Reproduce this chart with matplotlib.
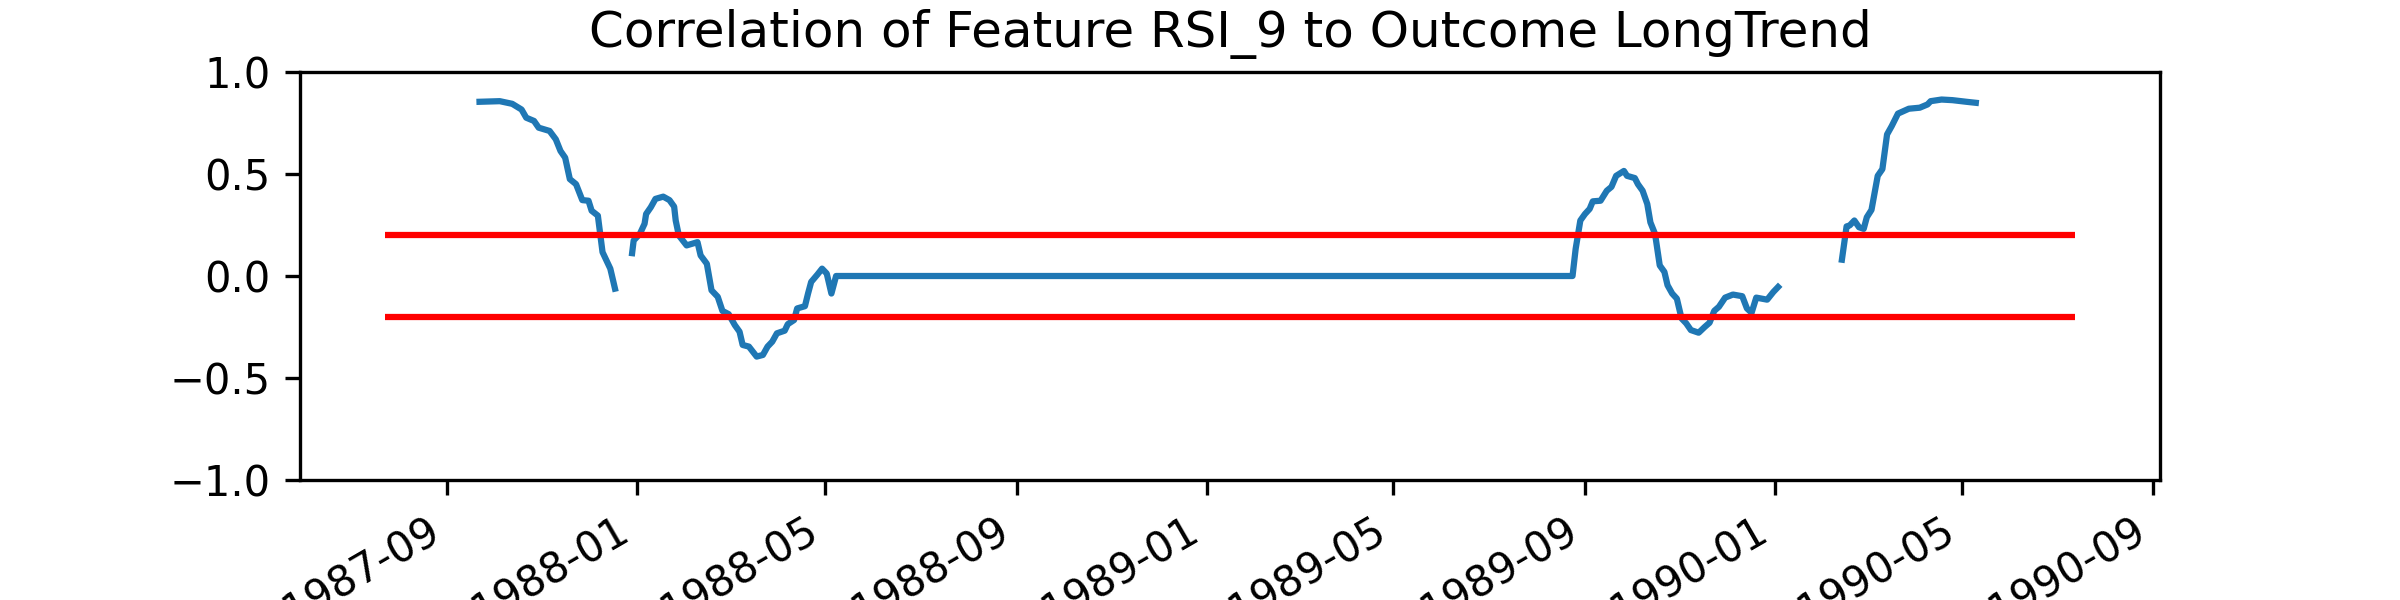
import matplotlib
matplotlib.use("Agg")
import matplotlib.pyplot as plt
import matplotlib.dates as mdates
import numpy as np
import pandas as pd

# sampled correlation values (NaN = no value)
dates = [
    "1987-07-23",
    "1987-09-22", "1987-10-05", "1987-10-13", "1987-10-19", "1987-10-22",
    "1987-10-27", "1987-10-30", "1987-11-06", "1987-11-10", "1987-11-13",
    "1987-11-16", "1987-11-19", "1987-11-23", "1987-11-27", "1987-12-01",
    "1987-12-03", "1987-12-07", "1987-12-10", "1987-12-15", "1987-12-17",
    "1987-12-18",
    "1987-12-23",
    "1987-12-29", "1987-12-30", "1988-01-03", "1988-01-06", "1988-01-07",
    "1988-01-10", "1988-01-13", "1988-01-18", "1988-01-22", "1988-01-25",
    "1988-01-26", "1988-01-28", "1988-02-02", "1988-02-09", "1988-02-11",
    "1988-02-15", "1988-02-18", "1988-02-22", "1988-02-25", "1988-02-29",
    "1988-03-04", "1988-03-07", "1988-03-09", "1988-03-13", "1988-03-18",
    "1988-03-22", "1988-03-25", "1988-03-28", "1988-03-31", "1988-04-05",
    "1988-04-07", "1988-04-11", "1988-04-13", "1988-04-18", "1988-04-20",
    "1988-04-22", "1988-04-26", "1988-04-29", "1988-05-02", "1988-05-05",
    "1988-05-08", "1989-08-24",
    "1989-08-26", "1989-08-29", "1989-09-01", "1989-09-04", "1989-09-06",
    "1989-09-11", "1989-09-15", "1989-09-18", "1989-09-21", "1989-09-26",
    "1989-09-28", "1989-10-03", "1989-10-05", "1989-10-08", "1989-10-11",
    "1989-10-13", "1989-10-16", "1989-10-19", "1989-10-22", "1989-10-24",
    "1989-10-27", "1989-10-30", "1989-11-02", "1989-11-05", "1989-11-08",
    "1989-11-13", "1989-11-17", "1989-11-20", "1989-11-23", "1989-11-26",
    "1989-11-30", "1989-12-05", "1989-12-11", "1989-12-14", "1989-12-17",
    "1989-12-20", "1989-12-27", "1989-12-31", "1990-01-03",
    "1990-01-20",
    "1990-02-13", "1990-02-16", "1990-02-18", "1990-02-21", "1990-02-24",
    "1990-02-27", "1990-03-01", "1990-03-04", "1990-03-08", "1990-03-11",
    "1990-03-14", "1990-03-17", "1990-03-21", "1990-03-28", "1990-04-04",
    "1990-04-09", "1990-04-11", "1990-04-18", "1990-04-25", "1990-05-04",
    "1990-05-10",
    "1990-07-13",
]
corr = [
    np.nan,
    0.854, 0.857, 0.844, 0.816, 0.776,
    0.760, 0.727, 0.711, 0.670, 0.613,
    0.580, 0.475, 0.450, 0.372, 0.369,
    0.320, 0.296, 0.117, 0.036, -0.029,
    -0.062,
    np.nan,
    0.112, 0.174, 0.207, 0.256, 0.304,
    0.337, 0.378, 0.389, 0.372, 0.340,
    0.272, 0.199, 0.150, 0.166, 0.101,
    0.060, -0.070, -0.102, -0.171, -0.187,
    -0.241, -0.273, -0.338, -0.346, -0.395,
    -0.387, -0.346, -0.322, -0.281, -0.268,
    -0.236, -0.216, -0.159, -0.148, -0.086,
    -0.029, 0.007, 0.036, 0.012, -0.086,
    0.0, 0.0,
    0.133, 0.272, 0.304, 0.329, 0.366,
    0.369, 0.418, 0.437, 0.491, 0.515,
    0.491, 0.480, 0.450, 0.418, 0.353,
    0.263, 0.206, 0.052, 0.020, -0.045,
    -0.086, -0.111, -0.208, -0.232, -0.265,
    -0.278, -0.249, -0.229, -0.171, -0.151,
    -0.106, -0.091, -0.099, -0.159, -0.180,
    -0.106, -0.116, -0.078, -0.054,
    np.nan,
    0.080, 0.243, 0.248, 0.272, 0.239,
    0.231, 0.288, 0.324, 0.491, 0.524,
    0.694, 0.735, 0.796, 0.820, 0.825,
    0.841, 0.857, 0.865, 0.862, 0.854,
    0.849,
    np.nan,
]
thresholds = [0.2, -0.2]

feature = "RSI_9"
outcome = "LongTrend"

idx = pd.to_datetime(dates)
series = pd.Series(corr, index=idx)

fig, ax = plt.subplots(figsize=(8, 2), dpi=300)
ax.plot(series.index, series.values)
ax.hlines(thresholds, idx[0], idx[-1], colors="red", linewidth=1.5)
ax.set_ylim(-1, 1)
ax.xaxis.set_major_locator(mdates.MonthLocator(bymonth=[1, 5, 9]))
ax.xaxis.set_major_formatter(mdates.DateFormatter("%Y-%m"))
ax.set_title(f"Correlation of Feature {feature} to Outcome {outcome}")
fig.autofmt_xdate()

fig.savefig("out.png", dpi=300)
